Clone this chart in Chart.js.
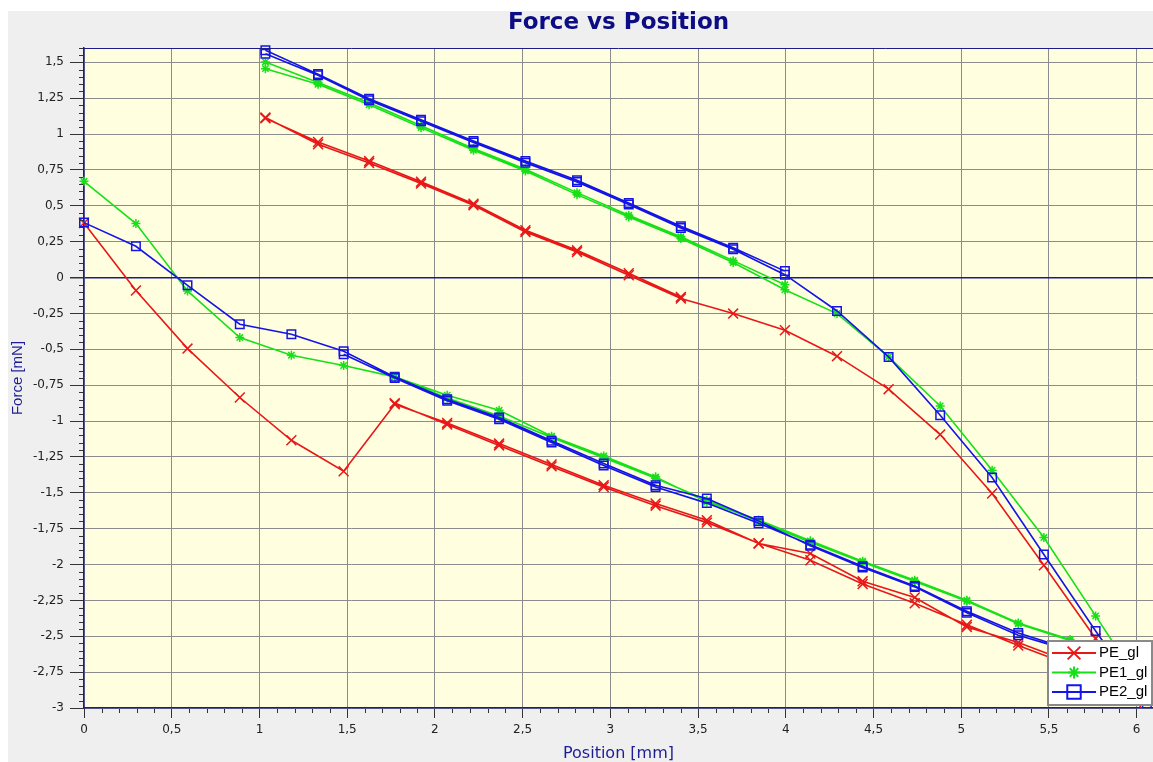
<!DOCTYPE html>
<html>
<head>
<meta charset="utf-8">
<title>Force vs Position</title>
<script src="https://cdn.jsdelivr.net/npm/chart.js@4/dist/chart.umd.min.js"></script>
<style>
  html, body { margin: 0; padding: 0; background: #fff; }
  #wrap { width: 1153px; height: 762px; }
</style>
</head>
<body>
<div id="wrap"><canvas id="forceChart" width="1153" height="762"></canvas></div>
<script>
// sample positions [mm]: approach/loading run and retract run
const posLoad = [0, 0.296, 0.59, 0.888, 1.182, 1.48, 1.771, 2.07, 2.366, 2.665, 2.962, 3.258,
                 3.55, 3.845, 4.14, 4.438, 4.735, 5.032, 5.325, 5.62, 5.915, 6.21];
const posUnload = [6.058, 5.766, 5.471, 5.176, 4.88, 4.586, 4.292, 3.995, 3.70, 3.402, 3.105,
                   2.81, 2.516, 2.22, 1.921, 1.625, 1.334, 1.034];

// PE_gl force [mN]
const peLoad = [0.38, -0.09, -0.495, -0.836, -1.134, -1.35, -0.883, -1.013, -1.157, -1.303, -1.447,
                -1.575, -1.691, -1.854, -1.923, -2.117, -2.23, -2.435, -2.544, -2.68, -2.83, -2.98];
const peUnload = [-3.06, -2.516, -2.005, -1.505, -1.094, -0.778, -0.548, -0.367, -0.251, -0.146,
                  0.016, 0.178, 0.318, 0.504, 0.655, 0.799, 0.929, 1.115];
const peUnload2 = [null, null, null, null, null, null, null, null, null, -0.135,
                   0.03, 0.19, 0.33, 0.515, 0.668, 0.812, 0.945, 1.11];
const peLoad2 = [null, null, null, null, null, null, -0.875, -1.025, -1.17, -1.316, -1.46,
                 -1.59, -1.708, -1.852, -1.97, -2.136, -2.27, -2.42, -2.565, -2.70, -2.84, -2.98];

// PE1_gl force [mN]
const pe1Load = [0.671, 0.376, -0.093, -0.418, -0.541, -0.613, -0.692, -0.82, -0.925, -1.106, -1.243,
                 -1.389, -1.564, -1.69, -1.835, -1.977, -2.109, -2.249, -2.407, -2.523, -2.66, -2.82];
const pe1Unload = [-2.9, -2.358, -1.812, -1.343, -0.895, -0.553, -0.251, -0.085, 0.105, 0.272,
                   0.422, 0.578, 0.743, 0.887, 1.045, 1.205, 1.347, 1.456];
const pe1Unload2 = [null, null, null, null, null, null, null, -0.05, 0.118, 0.285,
                    0.435, 0.592, 0.755, 0.9, 1.058, 1.218, 1.36, 1.503];
const pe1Load2 = [null, null, null, null, null, null, -0.692, -0.84, -0.965, -1.115, -1.255,
                  -1.398, -1.552, -1.70, -1.845, -1.985, -2.118, -2.256, -2.413, -2.53, -2.67, -2.83];

// PE2_gl force [mN]
const pe2Load = [0.383, 0.218, -0.054, -0.325, -0.395, -0.514, -0.692, -0.848, -0.976, -1.138, -1.296,
                 -1.447, -1.54, -1.696, -1.87, -2.021, -2.156, -2.337, -2.493, -2.6, -2.72, -2.86];
const pe2Unload = [-2.97, -2.463, -1.93, -1.394, -0.96, -0.553, -0.233, 0.02, 0.197, 0.346,
                   0.509, 0.666, 0.801, 0.941, 1.089, 1.236, 1.41, 1.56];
const pe2Unload2 = [null, null, null, null, null, null, null, 0.045, 0.208, 0.358,
                    0.52, 0.678, 0.812, 0.952, 1.1, 1.247, 1.418, 1.584];
const pe2Load2 = [null, null, null, null, null, -0.535, -0.7, -0.858, -0.988, -1.15, -1.31,
                  -1.46, -1.572, -1.712, -1.862, -2.012, -2.15, -2.325, -2.478, -2.59, -2.71, -2.85];

const seriesNames = ['PE_gl', 'PE1_gl', 'PE2_gl'];

// one run after the other, gaps (y: null) between the separate runs
function toPoints(load, unload, unload2, load2) {
    const pts = [];
    load.forEach((f, i) => pts.push({ x: posLoad[i], y: f }));
    unload.forEach((f, i) => pts.push({ x: posUnload[i], y: f }));
    pts.push({ x: posUnload[posUnload.length - 1], y: null });
    unload2.forEach((f, i) => { if (f !== null) pts.push({ x: posUnload[i], y: f }); });
    pts.push({ x: posLoad[0], y: null });
    load2.forEach((f, i) => { if (f !== null) pts.push({ x: posLoad[i], y: f }); });
    return pts;
}

const fmt = (v) => String(Math.round(v * 100) / 100).replace('.', ',');
const NAVY = '#1c1c8c';
const GRID = '#8c8c8c';

const backdrop = {
    id: 'backdrop',
    beforeDraw(chart) {
        const { ctx, width, height, chartArea: a } = chart;
        ctx.save();
        ctx.fillStyle = '#efefef';
        ctx.fillRect(8, 11, width - 8, height - 11);
        ctx.fillStyle = '#ffffe0';
        ctx.fillRect(a.left, a.top, a.right - a.left, a.bottom - a.top);
        ctx.restore();
    }
};

const frameAndMinorTicks = {
    id: 'frameAndMinorTicks',
    afterDatasetsDraw(chart) {
        const { ctx, chartArea: a, scales } = chart;
        ctx.save();
        ctx.strokeStyle = NAVY;
        ctx.lineWidth = 1;
        ctx.beginPath();
        ctx.moveTo(a.left, a.top + 0.5);
        ctx.lineTo(a.right, a.top + 0.5);
        ctx.stroke();

        ctx.strokeStyle = '#333';
        ctx.beginPath();
        for (let k = -60; k <= 32; k++) {
            if (k % 5 === 0) continue;
            const py = Math.round(scales.y.getPixelForValue(k * 0.05)) + 0.5;
            ctx.moveTo(a.left - 5, py);
            ctx.lineTo(a.left - 1, py);
        }
        for (let k = 1; k <= 60; k++) {
            if (k % 5 === 0) continue;
            const px = Math.round(scales.x.getPixelForValue(k * 0.1)) + 0.5;
            ctx.moveTo(px, a.bottom + 1);
            ctx.lineTo(px, a.bottom + 5);
        }
        ctx.stroke();
        ctx.restore();
    }
};

const legendRadius = [9, 6, 9.5];

const boxLegend = {
    id: 'boxLegend',
    afterDraw(chart) {
        const { ctx, chartArea: a } = chart;
        const w = 104, h = 64;
        const x0 = a.right - w - 1, y0 = a.bottom - h - 3;
        ctx.save();
        ctx.fillStyle = '#fff';
        ctx.fillRect(x0, y0, w, h);
        ctx.strokeStyle = '#8a8a8a';
        ctx.lineWidth = 2;
        ctx.strokeRect(x0, y0, w, h);
        chart.data.datasets.forEach((ds, i) => {
            const y = y0 + 12 + i * 19.5;
            ctx.strokeStyle = ds.borderColor;
            ctx.lineWidth = 2;
            ctx.beginPath();
            ctx.moveTo(x0 + 4, y);
            ctx.lineTo(x0 + 48, y);
            ctx.stroke();
            ctx.fillStyle = 'rgba(0,0,0,0)';
            Chart.helpers.drawPoint(ctx, { pointStyle: ds.pointStyle, radius: legendRadius[i], borderWidth: 2, rotation: 0 }, x0 + 26, y);
            ctx.fillStyle = '#000';
            ctx.font = '15px Arial';
            ctx.textBaseline = 'middle';
            ctx.textAlign = 'left';
            ctx.fillText(ds.label, x0 + 51, y);
        });
        ctx.restore();
    }
};

const lineSet = (label, data, color, pointStyle, radius, order) => ({
    label, data, order,
    showLine: true,
    spanGaps: false,
    borderColor: color,
    borderWidth: 1.6,
    pointStyle,
    pointRadius: radius,
    pointBorderColor: color,
    pointBackgroundColor: 'rgba(0,0,0,0)',
    pointBorderWidth: 1.5,
    clip: { left: 10, top: 10, right: 0, bottom: 0 },
});

new Chart(document.getElementById('forceChart'), {
    type: 'scatter',
    data: {
        datasets: [
            lineSet(seriesNames[0], toPoints(peLoad, peUnload, peUnload2, peLoad2), '#e81818', 'crossRot', 7, 3),
            lineSet(seriesNames[1], toPoints(pe1Load, pe1Unload, pe1Unload2, pe1Load2), '#18e018', 'star', 4.5, 2),
            lineSet(seriesNames[2], toPoints(pe2Load, pe2Unload, pe2Unload2, pe2Load2), '#1414e6', 'rect', 6, 1),
        ]
    },
    options: {
        responsive: false,
        devicePixelRatio: 1,
        animation: false,
        layout: { padding: 0, autoPadding: false },
        plugins: {
            legend: { display: false },
            tooltip: { enabled: false },
            title: {
                display: true,
                text: 'Force vs Position',
                fullSize: false,
                color: '#0c0c84',
                font: { family: 'DejaVu Sans', size: 23, weight: 'bold', lineHeight: 1.2 },
                padding: { top: 9.2, bottom: 11.2 },
            },
        },
        scales: {
            x: {
                type: 'linear',
                min: 0,
                max: 6.093,
                afterFit: (s) => { s.height = 54; s.paddingLeft = 0; s.paddingRight = 0; },
                ticks: {
                    stepSize: 0.5, maxTicksLimit: 20, includeBounds: false, autoSkip: false, maxRotation: 0,
                    callback: fmt, color: '#222', padding: 5,
                    font: { family: 'DejaVu Sans', size: 12 },
                },
                grid: { color: GRID, lineWidth: 1, tickLength: 10, tickColor: '#333' },
                border: { color: NAVY, width: 1.5 },
                title: {
                    display: true, text: 'Position [mm]', color: '#1c1c94',
                    font: { family: 'DejaVu Sans', size: 16, lineHeight: 1 },
                    padding: { top: 0, bottom: 0 },
                },
            },
            y: {
                type: 'linear',
                min: -3,
                max: 1.6,
                afterFit: (s) => { s.width = 84; s.paddingTop = 0; s.paddingBottom = 0; },
                ticks: {
                    stepSize: 0.25, maxTicksLimit: 30, includeBounds: false,
                    callback: fmt, color: '#222', padding: 6,
                    font: { family: 'DejaVu Sans', size: 12 },
                },
                grid: {
                    color: (c) => (c.tick && c.tick.value === 0 ? NAVY : GRID),
                    lineWidth: (c) => (c.tick && c.tick.value === 0 ? 1.5 : 1),
                    tickLength: 14,
                    tickColor: '#333',
                },
                border: { color: NAVY, width: 1.5 },
                title: {
                    display: true, text: 'Force [mN]', color: '#1c1c94',
                    font: { family: 'Arial', size: 15 },
                    padding: { top: 9, bottom: 0 },
                },
            },
        },
    },
    plugins: [backdrop, frameAndMinorTicks, boxLegend],
});
</script>
</body>
</html>
